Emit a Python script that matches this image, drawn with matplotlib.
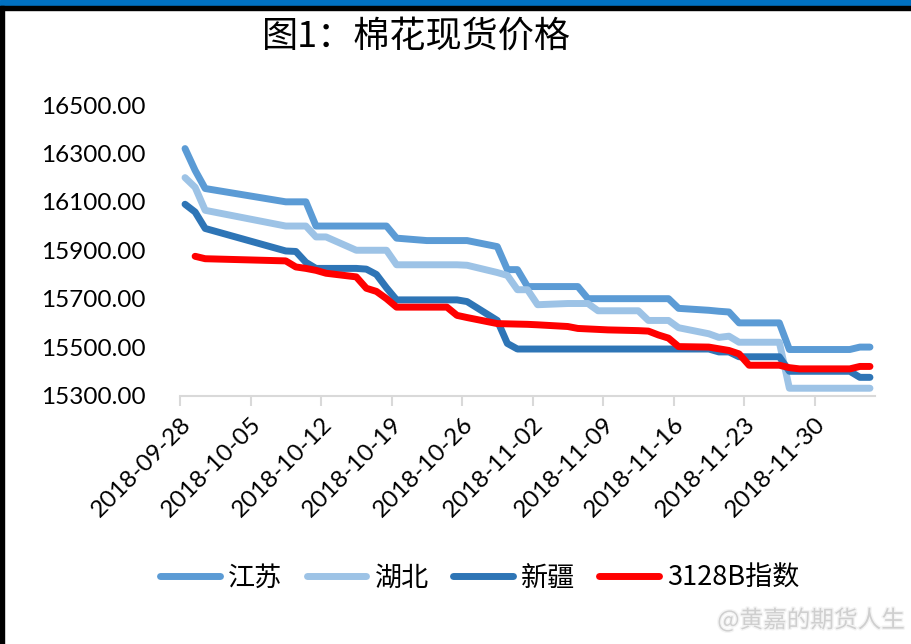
import matplotlib
matplotlib.use('Agg')
import matplotlib.pyplot as plt
from matplotlib.patches import Rectangle
from matplotlib.ticker import FormatStrFormatter
import matplotlib.patheffects as pe
import pandas as pd
import numpy as np

plt.rcParams['font.family'] = ['Lato', 'Noto Sans CJK SC', 'DejaVu Sans']

# trading days (national holiday gap 10-01 .. 10-07)
dates = ['2018-09-28', '2018-09-29', '2018-09-30',
         '2018-10-08', '2018-10-09', '2018-10-10', '2018-10-11', '2018-10-12',
         '2018-10-15', '2018-10-16', '2018-10-17', '2018-10-18', '2018-10-19',
         '2018-10-22', '2018-10-23', '2018-10-24', '2018-10-25', '2018-10-26',
         '2018-10-29', '2018-10-30', '2018-10-31', '2018-11-01', '2018-11-02',
         '2018-11-05', '2018-11-06', '2018-11-07', '2018-11-08', '2018-11-09',
         '2018-11-12', '2018-11-13', '2018-11-14', '2018-11-15', '2018-11-16',
         '2018-11-19', '2018-11-20', '2018-11-21', '2018-11-22', '2018-11-23',
         '2018-11-26', '2018-11-27', '2018-11-28', '2018-11-29', '2018-11-30',
         '2018-12-03', '2018-12-04', '2018-12-05']

jiangsu = [16320, 16230, 16155,
           16100, 16100, 16100, 16000, 16000,
           16000, 16000, 16000, 16000, 15950,
           15940, 15940, 15940, 15940, 15940,
           15915, 15820, 15820, 15750, 15750,
           15750, 15750, 15700, 15700, 15700,
           15700, 15700, 15700, 15700, 15660,
           15652, 15648, 15645, 15600, 15600,
           15600, 15490, 15490, 15490, 15490,
           15490, 15500, 15500]

hubei = [16200, 16160, 16065,
         16000, 16000, 16000, 15955, 15955,
         15900, 15900, 15900, 15900, 15840,
         15840, 15840, 15840, 15840, 15838,
         15808, 15796, 15737, 15737, 15675,
         15680, 15680, 15680, 15650, 15650,
         15650, 15610, 15610, 15610, 15580,
         15555, 15540, 15545, 15520, 15520,
         15520, 15330, 15330, 15330, 15330,
         15330, 15330, 15330]

xinjiang = [16090, 16058, 15990,
            15897, 15895, 15850, 15825, 15825,
            15825, 15822, 15800, 15745, 15695,
            15695, 15695, 15695, 15695, 15688,
            15610, 15515, 15492, 15492, 15492,
            15492, 15492, 15492, 15492, 15492,
            15492, 15492, 15492, 15492, 15492,
            15492, 15480, 15480, 15460, 15460,
            15460, 15400, 15400, 15400, 15400,
            15400, 15375, 15375]

idx3128b = [np.nan, 15875, 15865,
            15856, 15831, 15825, 15817, 15805,
            15790, 15743, 15730, 15700, 15665,
            15665, 15665, 15665, 15631, 15622,
            15597, 15596, 15595, 15594, 15592,
            15585, 15577, 15575, 15573, 15571,
            15568, 15566, 15550, 15537, 15502,
            15500, 15493, 15486, 15472, 15425,
            15425, 15415, 15410, 15410, 15410,
            15410, 15420, 15420]

names = ['江苏', '湖北', '新疆', '3128B指数']
colors = ['#5B9BD5', '#9DC3E6', '#2E75B6', '#FF0000']

fig = plt.figure(figsize=(9.12, 6.44), dpi=100)

# frame decorations
fig.patches.append(Rectangle((0, 1 - 6 / 644), 1, 6 / 644, transform=fig.transFigure,
                             color='#0070C0', zorder=0))
fig.patches.append(Rectangle((0, 1 - 10 / 644), 1, 4 / 644, transform=fig.transFigure,
                             color='black', zorder=0))
fig.patches.append(Rectangle((0, 0), 4 / 912, 1 - 6 / 644, transform=fig.transFigure,
                             color='black', zorder=0))

ax = fig.add_axes([180 / 912, 1 - 395.5 / 644, 695 / 912, 290.5 / 644])

x = pd.to_datetime(dates) + pd.Timedelta(hours=12)
for vals, name, c in zip([jiangsu, hubei, xinjiang, idx3128b], names, colors):
    ax.plot(x, vals, color=c, lw=5, label=name,
            solid_capstyle='round', solid_joinstyle='round')

ax.set_ylim(15300, 16500)
ax.set_yticks(np.arange(15300, 16501, 200))
ax.yaxis.set_major_formatter(FormatStrFormatter('%.2f'))

ax.set_xlim(pd.Timestamp('2018-09-28'), pd.Timestamp('2018-12-06'))
ticks = pd.date_range('2018-09-28', '2018-11-30', freq='7D')
ax.set_xticks(ticks)
ax.set_xticklabels([t.strftime('%Y-%m-%d') for t in ticks], rotation=45,
                   ha='right', rotation_mode='anchor')

for s in ['top', 'right', 'left']:
    ax.spines[s].set_visible(False)
ax.spines['bottom'].set_color('#D9D9D9')
ax.spines['bottom'].set_linewidth(1.5)
ax.tick_params(axis='y', length=0, pad=25, labelsize=17.5)
ax.tick_params(axis='x', length=7, width=1.5, color='#D9D9D9', labelsize=17.5, pad=6)

fig.text(416 / 912, 1 - 37 / 644, '图1：棉花现货价格', fontsize=26,
         ha='center', va='center', family=['Noto Sans CJK SC', 'DejaVu Sans'])

fig.legend(loc='center', bbox_to_anchor=(480 / 912, 1 - 578 / 644), ncol=4,
           frameon=False, handlelength=2.2, handletextpad=0.3,
           columnspacing=0.9,
           prop={'family': ['Noto Sans CJK SC', 'DejaVu Sans'], 'size': 19.5})

fig.text(905 / 912, 1 - 620 / 644, '@黄嘉的期货人生', fontsize=17, color='#cfcfcf',
         ha='right', va='center', family=['Noto Sans CJK SC', 'DejaVu Sans'],
         path_effects=[pe.withStroke(linewidth=2, foreground='#f4f4f4')])

fig.savefig('out.png', dpi=100)
